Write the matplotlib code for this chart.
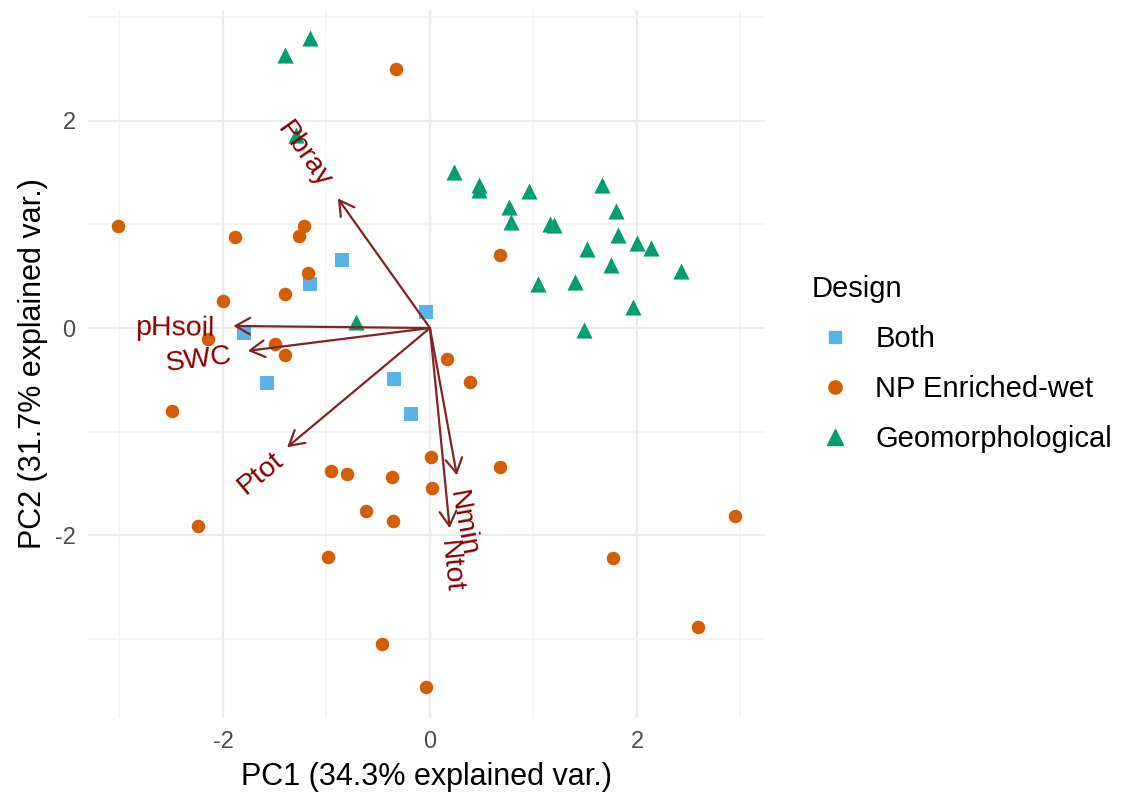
import numpy as np
import matplotlib
matplotlib.use("Agg")
from matplotlib import pyplot as plt
from matplotlib.lines import Line2D
from matplotlib.textpath import TextPath
from matplotlib.font_manager import FontProperties

plt.rcParams['font.family'] = ['Liberation Sans', 'DejaVu Sans']
plt.rcParams['axes.unicode_minus'] = False

# PCA scores per design group
both_pc1 = [-0.85, -1.16, -0.04, -1.80, -1.57, -0.35, -0.18]
both_pc2 = [0.66, 0.42, 0.15, -0.05, -0.53, -0.49, -0.83]

np_pc1 = [-0.33, -3.01, -1.88, -1.22, -1.27, -1.18, -1.40, -2.00, -2.14, -1.50,
          -1.40, -2.49, 0.16, 0.39, 0.01, -0.96, -0.80, -0.37, 0.02, -0.62,
          -0.36, -2.24, -0.99, -0.46, -0.04, 0.68, 2.95, 1.77, 2.59, 0.68]
np_pc2 = [2.50, 0.98, 0.88, 0.98, 0.89, 0.53, 0.33, 0.26, -0.11, -0.15,
          -0.26, -0.80, -0.30, -0.52, -1.24, -1.38, -1.41, -1.44, -1.54, -1.76,
          -1.86, -1.91, -2.21, -3.05, -3.46, -1.34, -1.81, -2.22, -2.88, 0.70]

geo_pc1 = [-1.40, -1.16, -1.29, -0.71, 0.23, 0.47, 0.47, 0.96, 0.76, 0.78,
           1.16, 1.20, 1.66, 1.80, 1.82, 2.00, 2.14, 1.52, 1.75, 2.43,
           1.04, 1.40, 1.96, 1.49]
geo_pc2 = [2.63, 2.80, 1.86, 0.06, 1.50, 1.38, 1.33, 1.32, 1.17, 1.02,
           1.00, 0.99, 1.38, 1.13, 0.90, 0.82, 0.77, 0.76, 0.61, 0.55,
           0.42, 0.44, 0.20, -0.02]

# variable loadings (arrow tips)
var_names = ['Pbray', 'pHsoil', 'SWC', 'Ptot', 'Nmin', 'Ntot']
var_pc1 = [-0.89, -1.90, -1.76, -1.38, 0.26, 0.19]
var_pc2 = [1.25, 0.02, -0.22, -1.15, -1.42, -1.93]

groups = ['Both', 'NP Enriched-wet', 'Geomorphological']
colors = ['#56B4E9', '#D55E00', '#009E73']
markers = ['s', 'o', '^']

fig = plt.figure(figsize=(11.24, 7.96), dpi=100)
W, H = 1124, 796
ax = fig.add_axes([88 / W, 1 - 718 / H, (765 - 88) / W, (718 - 10) / H])
ax.set_xlim(-3.304, 3.237)
ax.set_ylim(-3.761, 3.067)

# theme_minimal look
for s in ax.spines.values():
    s.set_visible(False)
ax.set_xticks([-2, 0, 2])
ax.set_yticks([-2, 0, 2])
ax.set_xticks([-3, -1, 1, 3], minor=True)
ax.set_yticks([-3, -1, 1, 3], minor=True)
ax.grid(True, which='major', color='#EBEBEB', linewidth=1.6)
ax.grid(True, which='minor', color='#F2F2F2', linewidth=1.1)
ax.tick_params(which='both', length=0, labelsize=17, labelcolor='#4D4D4D', pad=9)
ax.set_axisbelow(True)

ax.set_xlabel('PC1 (34.3% explained var.)', fontsize=22, labelpad=7)
ax.set_ylabel('PC2 (31.7% explained var.)', fontsize=22, labelpad=5)

# points
data = [(both_pc1, both_pc2), (np_pc1, np_pc2), (geo_pc1, geo_pc2)]
sizes = [90, 95, 135]
for (xs, ys), c, m, sz in zip(data, colors, markers, sizes):
    ax.scatter(xs, ys, s=sz, c=c, marker=m, linewidths=0, zorder=3)

# arrows
for x, y in zip(var_pc1, var_pc2):
    ax.annotate('', xy=(x, y), xytext=(0, 0),
                arrowprops=dict(arrowstyle='->,head_length=1.05,head_width=0.6',
                                color='#832424', lw=1.6, mutation_scale=10,
                                shrinkA=0, shrinkB=0), zorder=4)

# variable labels, hjust like ggbiplot (varname.adjust = 1.5)
lab_fs = 20.5
fp = FontProperties(family='Liberation Sans', size=lab_fs)
for name, x, y in zip(var_names, var_pc1, var_pc2):
    ang = np.degrees(np.arctan(y / x))
    w = TextPath((0, 0), name, prop=fp).get_extents().width
    u = np.array([np.cos(np.radians(ang)), np.sin(np.radians(ang))])
    off = np.sign(x) * 0.25 * w * u
    ax.annotate(name, xy=(x, y), xytext=(off[0], off[1]), textcoords='offset points',
                rotation=ang, rotation_mode='anchor',
                ha='right' if x < 0 else 'left', va='center_baseline',
                color='#8B0000', fontsize=lab_fs, zorder=5)

# legend
handles = [Line2D([], [], linestyle='none', marker=m, color=c, markersize=ms)
           for c, m, ms in zip(colors, markers, [9, 9.5, 11])]
leg = fig.legend(handles, groups, title='Design', loc='upper left',
                 bbox_to_anchor=(785 / W, 1 - 249 / H), frameon=False,
                 fontsize=21, title_fontsize=21, handletextpad=0.6,
                 labelspacing=0.75, alignment='left', handlelength=1.6)

fig.savefig('out.png', dpi=100)
